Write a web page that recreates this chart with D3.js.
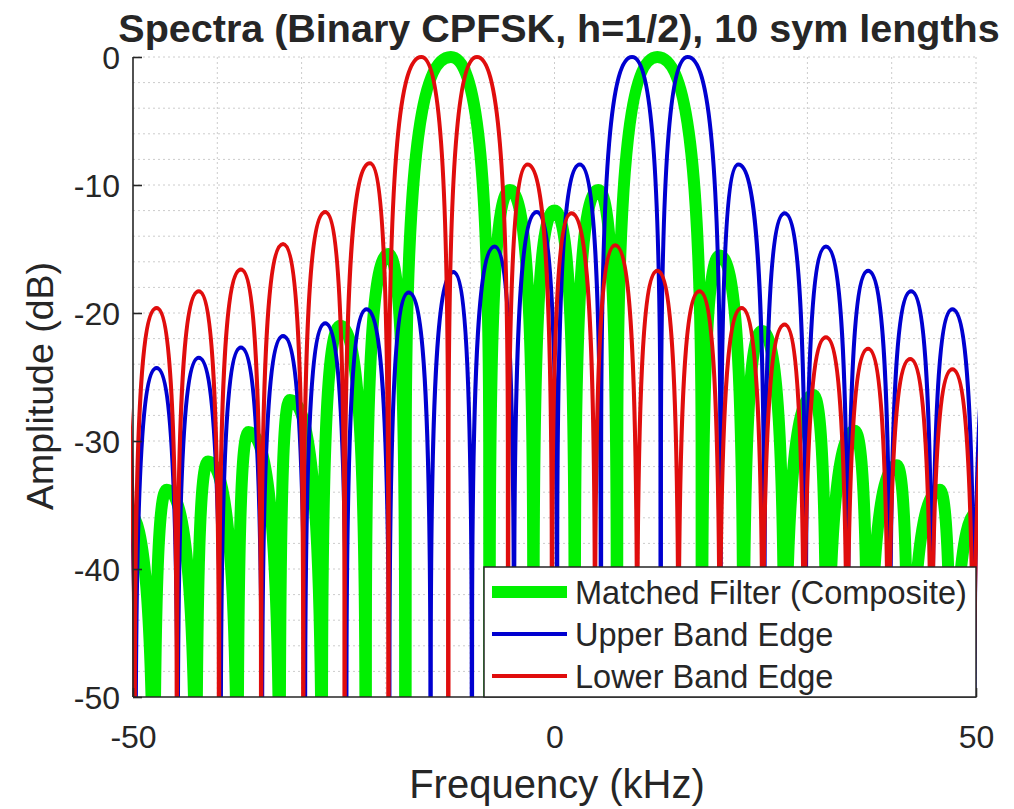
<!DOCTYPE html>
<html>
<head>
<meta charset="utf-8">
<script src="https://cdn.jsdelivr.net/npm/d3@7"></script>
<style>
  body { margin: 0; background: #fff; }
  text { font-family: "Liberation Sans", Arial, Helvetica, sans-serif; fill: #262626; }
</style>
</head>
<body>
<svg id="chart" width="1014" height="809"></svg>
<script>
// every spectrum is a row of lobes: null positions (kHz), and one peak (kHz, dB) per lobe

// Matched Filter (Composite)
const matchedNulls = [-52.4, -47.5, -42.5, -37.6, -32.6, -27.6, -22.4, -17.7, -7.7, -2.5,
    2.4, 7.4, 17.5, 22.4, 27.3, 32.3, 37.2, 42.0, 47.1, 52.0];
const matchedPeakF = [-50.6, -46.0, -41.1, -36.3, -31.4, -25.4, -19.7, -12.3, -5.3, 0.0,
    5.2, 12.2, 19.6, 24.6, 30.7, 35.6, 40.6, 45.7, 50.2];
const matchedPeakDb = [-35.5, -33.8, -31.6, -29.3, -26.8, -21.0, -15.4, 0, -10.4, -12.0,
    -10.4, 0, -15.5, -21.4, -26.4, -29.2, -31.9, -33.8, -35.5];

// Upper Band Edge
const upperNulls = [-54.7, -49.7, -44.7, -39.6, -34.7, -29.6, -24.7, -19.6, -14.7, -9.8, -4.8,
    0.3, 5.5, 12.6, 19.7, 24.9, 29.8, 34.8, 39.8, 44.8, 49.8, 54.8];
const upperPeakF = [-52.2, -47.2, -42.2, -37.2, -32.2, -27.2, -22.3, -17.3, -12.0, -7.1, -2.1,
    3.0, 9.2, 15.8, 21.8, 27.3, 32.2, 37.2, 42.3, 47.2, 52.3];
const upperPeakDb = [-25.0, -24.3, -23.5, -22.7, -21.8, -20.8, -19.7, -18.4, -16.8, -14.8, -12.1,
    -8.4, 0, 0, -8.4, -12.2, -14.8, -16.7, -18.3, -19.7, -20.8];

// Lower Band Edge
const lowerNulls = [-54.8, -49.8, -44.8, -39.8, -34.8, -29.8, -24.9, -19.7, -12.6, -5.5, -0.3,
    4.8, 9.8, 14.7, 19.6, 24.7, 29.6, 34.7, 39.6, 44.7, 49.7, 54.7];
const lowerPeakF = [-52.3, -47.2, -42.2, -37.2, -32.2, -27.2, -21.9, -15.8, -9.2, -3.2, 2.0,
    7.2, 12.2, 17.2, 22.2, 27.3, 32.2, 37.2, 42.2, 47.2, 52.2];
const lowerPeakDb = [-20.8, -19.6, -18.3, -16.6, -14.6, -12.1, -8.3, 0, 0, -8.4, -12.2,
    -14.7, -16.7, -18.3, -19.6, -20.9, -21.9, -22.8, -23.6, -24.4, -25.1];

const xTicks = [-50, 0, 50];
const yTicks = [-50, -40, -30, -20, -10, 0];
const xGrid = [-40, -30, -20, -10, 0, 10, 20, 30, 40, 50];
const yGrid = d3.range(-48, 1, 2);

const series = [
    {name: "Matched Filter (Composite)", color: "#00f000", width: 12, nulls: matchedNulls, peakF: matchedPeakF, peakDb: matchedPeakDb},
    {name: "Upper Band Edge", color: "#0000d0", width: 4, nulls: upperNulls, peakF: upperPeakF, peakDb: upperPeakDb},
    {name: "Lower Band Edge", color: "#e00d0d", width: 4, nulls: lowerNulls, peakF: lowerPeakF, peakDb: lowerPeakDb}
];

const margin = {top: 57, right: 38, bottom: 112, left: 133};
const width = 1014 - margin.left - margin.right;
const height = 809 - margin.top - margin.bottom;

const svg = d3.select("#chart");
const g = svg.append("g").attr("transform", `translate(${margin.left},${margin.top})`);

const x = d3.scaleLinear().domain([-50, 50]).range([0, width]);
const y = d3.scaleLinear().domain([-50, 0]).range([height, 0]);

// grid
g.append("g").selectAll("line").data(xGrid).join("line")
    .attr("x1", d => x(d)).attr("x2", d => x(d))
    .attr("y1", 0).attr("y2", height)
    .attr("stroke", "#cccccc").attr("stroke-width", 1).attr("stroke-dasharray", "2,3");
g.append("g").selectAll("line").data(yGrid).join("line")
    .attr("x1", 0).attr("x2", width)
    .attr("y1", d => y(d)).attr("y2", d => y(d))
    .attr("stroke", "#cccccc").attr("stroke-width", 1).attr("stroke-dasharray", "2,3");

svg.append("defs").append("clipPath").attr("id", "plotClip")
    .append("rect").attr("x", -2).attr("y", -10).attr("width", width + 4).attr("height", height + 10);

// one arch per lobe: steep near the nulls, flat over the peak
function lobePath(s) {
    const p = d3.path();
    const deep = -120;
    s.peakF.forEach((f, i) => {
        const a = s.nulls[i], b = s.nulls[i + 1], db = s.peakDb[i];
        const wl = f - a, wr = b - f;
        if (i === 0) p.moveTo(x(a), y(deep));
        p.lineTo(x(a + 0.01 * wl), y(db - 30));
        p.bezierCurveTo(x(a + 0.02 * wl), y(db - 8), x(a + 0.35 * wl), y(db), x(f), y(db));
        p.bezierCurveTo(x(b - 0.35 * wr), y(db), x(b - 0.02 * wr), y(db - 8), x(b - 0.01 * wr), y(db - 30));
        p.lineTo(x(b), y(deep));
    });
    return p.toString();
}

g.append("g").attr("clip-path", "url(#plotClip)")
    .selectAll("path").data(series).join("path")
    .attr("d", d => lobePath(d))
    .attr("fill", "none")
    .attr("stroke", d => d.color)
    .attr("stroke-width", d => d.width)
    .attr("stroke-linejoin", "round");

// axes (ticks point inward, no box); plain hyphen for negatives like the original
const axisColor = "#262626";
const yAxis = g.append("g").call(d3.axisLeft(y).tickValues(yTicks).tickSize(-9).tickPadding(13).tickFormat(d => String(d)));
const xAxis = g.append("g").attr("transform", `translate(0,${height})`)
    .call(d3.axisBottom(x).tickValues(xTicks).tickSize(-9).tickPadding(22).tickFormat(d => String(d)));
[xAxis, yAxis].forEach(ax => {
    ax.select(".domain").attr("stroke", axisColor).attr("stroke-width", 1.6);
    ax.selectAll(".tick line").attr("stroke", axisColor).attr("stroke-width", 1.6);
    ax.selectAll(".tick text").attr("font-size", 32).attr("font-family", null).attr("fill", axisColor);
});
yAxis.select(".domain").attr("d", `M0,${height}V0`);
xAxis.select(".domain").attr("d", `M0,0H${width}`);
yAxis.selectAll(".tick text").attr("dy", "0.35em");
xAxis.selectAll(".tick text").attr("dy", "0.9em");

// labels
svg.append("text")
    .attr("x", 559).attr("y", 42)
    .attr("text-anchor", "middle")
    .attr("font-size", 39.5).attr("font-weight", "bold")
    .attr("fill", "#000")
    .text("Spectra (Binary CPFSK, h=1/2), 10 sym lengths");

svg.append("text")
    .attr("x", 557).attr("y", 798)
    .attr("text-anchor", "middle")
    .attr("font-size", 40)
    .text("Frequency (kHz)");

svg.append("text")
    .attr("transform", "translate(53,386) rotate(-90)")
    .attr("text-anchor", "middle")
    .attr("font-size", 37.5)
    .text("Amplitude (dB)");

// legend
const legend = g.append("g").attr("transform", `translate(${484 - margin.left},${567 - margin.top})`);
legend.append("rect")
    .attr("width", 492).attr("height", 130)
    .attr("fill", "#fff").attr("stroke", axisColor).attr("stroke-width", 1.5);
const rows = legend.selectAll("g.row").data(series).join("g")
    .attr("class", "row")
    .attr("transform", (d, i) => `translate(0,${25 + i * 42})`);
rows.append("line")
    .attr("x1", 8).attr("x2", 83)
    .attr("stroke", d => d.color)
    .attr("stroke-width", d => d.width);
rows.append("text")
    .attr("x", 91).attr("dy", "0.36em")
    .attr("font-size", 32.5)
    .text(d => d.name);
</script>
</body>
</html>
